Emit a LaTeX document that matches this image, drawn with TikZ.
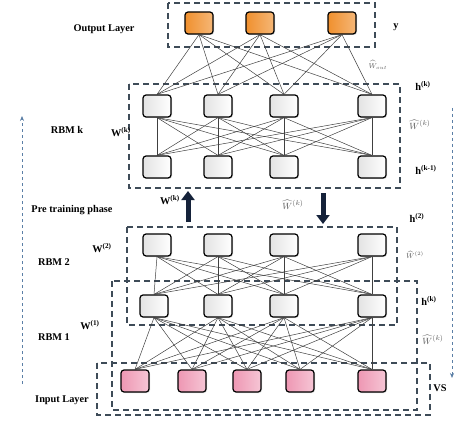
\documentclass[tikz,border=0pt]{standalone}
\usepackage{fontspec}
\setmainfont{Liberation Serif}
\usetikzlibrary{arrows.meta,shadows}
\definecolor{boxgray}{HTML}{3E4B58}
\definecolor{sideblue}{HTML}{5B7FA6}
\definecolor{navy}{HTML}{15223A}
\definecolor{unitorange}{HTML}{F0902E}
\definecolor{unitpink}{HTML}{EE97B3}
\begin{document}
\begin{tikzpicture}
[x=1pt,y=-1pt,
  unitdecorate/.style={shape=rectangle,rounded corners=3pt,minimum width=28pt,
    minimum height=22pt,draw=black,line width=1.2pt,
    left color=gray!22,right color=white,
    drop shadow={shadow xshift=1pt,shadow yshift=-1pt,opacity=0.3}},%
  outdecorate/.style={unitdecorate,left color=unitorange,right color=unitorange!65!white},%
  indecorate/.style={unitdecorate,left color=unitpink,right color=unitpink!55!white},%
  linedecorate/.style={-,line width=0.5pt,black!75},%
  boxdecorate/.style={draw=boxgray,line width=1.3pt,dash pattern=on 6pt off 4pt},%
  sidedecorate/.style={draw=sideblue,line width=0.7pt,dash pattern=on 3pt off 3pt,
    -{Stealth[length=5pt,width=4pt]}},%
  bigarrow/.style={draw=navy,line width=5pt,-{Triangle[length=9pt,width=13pt]}},%
  labeldecorate/.style={font=\bfseries\fontsize{10.3}{11}\selectfont},%
  hatdecorate/.style={text=black!65,font=\fontsize{9.5}{10}\selectfont}]
\useasboundingbox (0,0) rectangle (474,425);
%%
%% dashed layer boxes
\draw[boxdecorate] (168,3) rectangle (375,47);
\draw[boxdecorate] (129,84) rectangle (400,188);
\draw[boxdecorate] (127,227) rectangle (397,325);
\draw[boxdecorate] (112,281) rectangle (417,410);
\draw[boxdecorate] (97,363) rectangle (430,415);
%%
%% units
\foreach \nodename/\x/\y in {o1/199/23, o2/260/23, o3/342/23} {
  \node (\nodename) at (\x,\y) [outdecorate] {};
}
\foreach \nodename/\x/\y in {a1/157/106, a2/218/106, a3/284/106, a4/372/106,
  b1/157/167, b2/218/167, b3/284/167, b4/372/167,
  c1/157/245, c2/218/245, c3/284/245, c4/372/245,
  d1/154/306, d2/218/306, d3/284/306, d4/372/306} {
  \node (\nodename) at (\x,\y) [unitdecorate] {};
}
\foreach \nodename/\x/\y in {v1/135/381, v2/192/381, v3/247/381, v4/300/381,
  v5/372/381} {
  \node (\nodename) at (\x,\y) [indecorate] {};
}
%% weights
\path
\foreach \startnode in {o1,o2,o3} { \foreach \endnode in {a1,a2,a3,a4} {
  (\startnode.south) edge[linedecorate] (\endnode.north)
}};
\path
\foreach \startnode in {a1,a2,a3,a4} { \foreach \endnode in {b1,b2,b3,b4} {
  (\startnode.south) edge[linedecorate] (\endnode.north)
}};
\path
\foreach \startnode in {c1,c2,c3,c4} { \foreach \endnode in {d1,d2,d3,d4} {
  (\startnode.south) edge[linedecorate] (\endnode.north)
}};
\path
\foreach \startnode in {d1,d2,d3,d4} { \foreach \endnode in {v1,v2,v3,v4,v5} {
  (\startnode.south) edge[linedecorate] (\endnode.north)
}};
%%
%% training arrows
\coordinate (upfoot) at (188,222);
\coordinate (uphead) at (188,191);
\coordinate (downfoot) at (323,193);
\coordinate (downhead) at (323,224);
\draw[bigarrow] (upfoot) -- (uphead);
\draw[bigarrow] (downfoot) -- (downhead);
\coordinate (leftfoot) at (22,384);
\coordinate (lefthead) at (22,116);
\coordinate (rightfoot) at (452,108);
\coordinate (righthead) at (452,378);
\draw[sidedecorate] (leftfoot) -- (lefthead);
\draw[sidedecorate] (rightfoot) -- (righthead);
%%
%% labels
\node (outlabel) at (104,29) [labeldecorate] {Output Layer};
\node (ylabel) at (396,27) [labeldecorate] {y};
\node (woutlabel) at (378,65) [hatdecorate,font=\fontsize{7}{8}\selectfont] {$\widehat{W}_{out}$};
\node (hklabel) at (423,86) [labeldecorate] {h\textsuperscript{(k)}};
\node (whklabel) at (420,125) [hatdecorate] {$\widehat{W}^{(k)}$};
\node (hkmlabel) at (426,170) [labeldecorate] {h\textsuperscript{(k-1)}};
\node (rbmklabel) at (67,130) [labeldecorate] {RBM k};
\node (wklabel) at (121,132) [labeldecorate] {W\textsuperscript{(k)}};
\node (wkuplabel) at (170,200) [labeldecorate] {W\textsuperscript{(k)}};
\node (whkdownlabel) at (293,205) [hatdecorate] {$\widehat{W}^{(k)}$};
\node (prelabel) at (72,210) [labeldecorate] {Pre training phase};
\node (h2label) at (417,218) [labeldecorate] {h\textsuperscript{(2)}};
\node (wh2label) at (415,255) [hatdecorate,font=\fontsize{7}{8}\selectfont] {$\widehat{W}^{(2)}$};
\node (w2label) at (102,248) [labeldecorate] {W\textsuperscript{(2)}};
\node (rbm2label) at (54,262) [labeldecorate] {RBM 2};
\node (hk2label) at (429,301) [labeldecorate] {h\textsuperscript{(k)}};
\node (w1label) at (90,325) [labeldecorate] {W\textsuperscript{(1)}};
\node (rbm1label) at (54,337) [labeldecorate] {RBM 1};
\node (whk2label) at (433,340) [hatdecorate] {$\widehat{W}^{(k)}$};
\node (vslabel) at (440,388) [labeldecorate] {VS};
\node (inlabel) at (62,400) [labeldecorate] {Input Layer};
\end{tikzpicture}
\end{document}
